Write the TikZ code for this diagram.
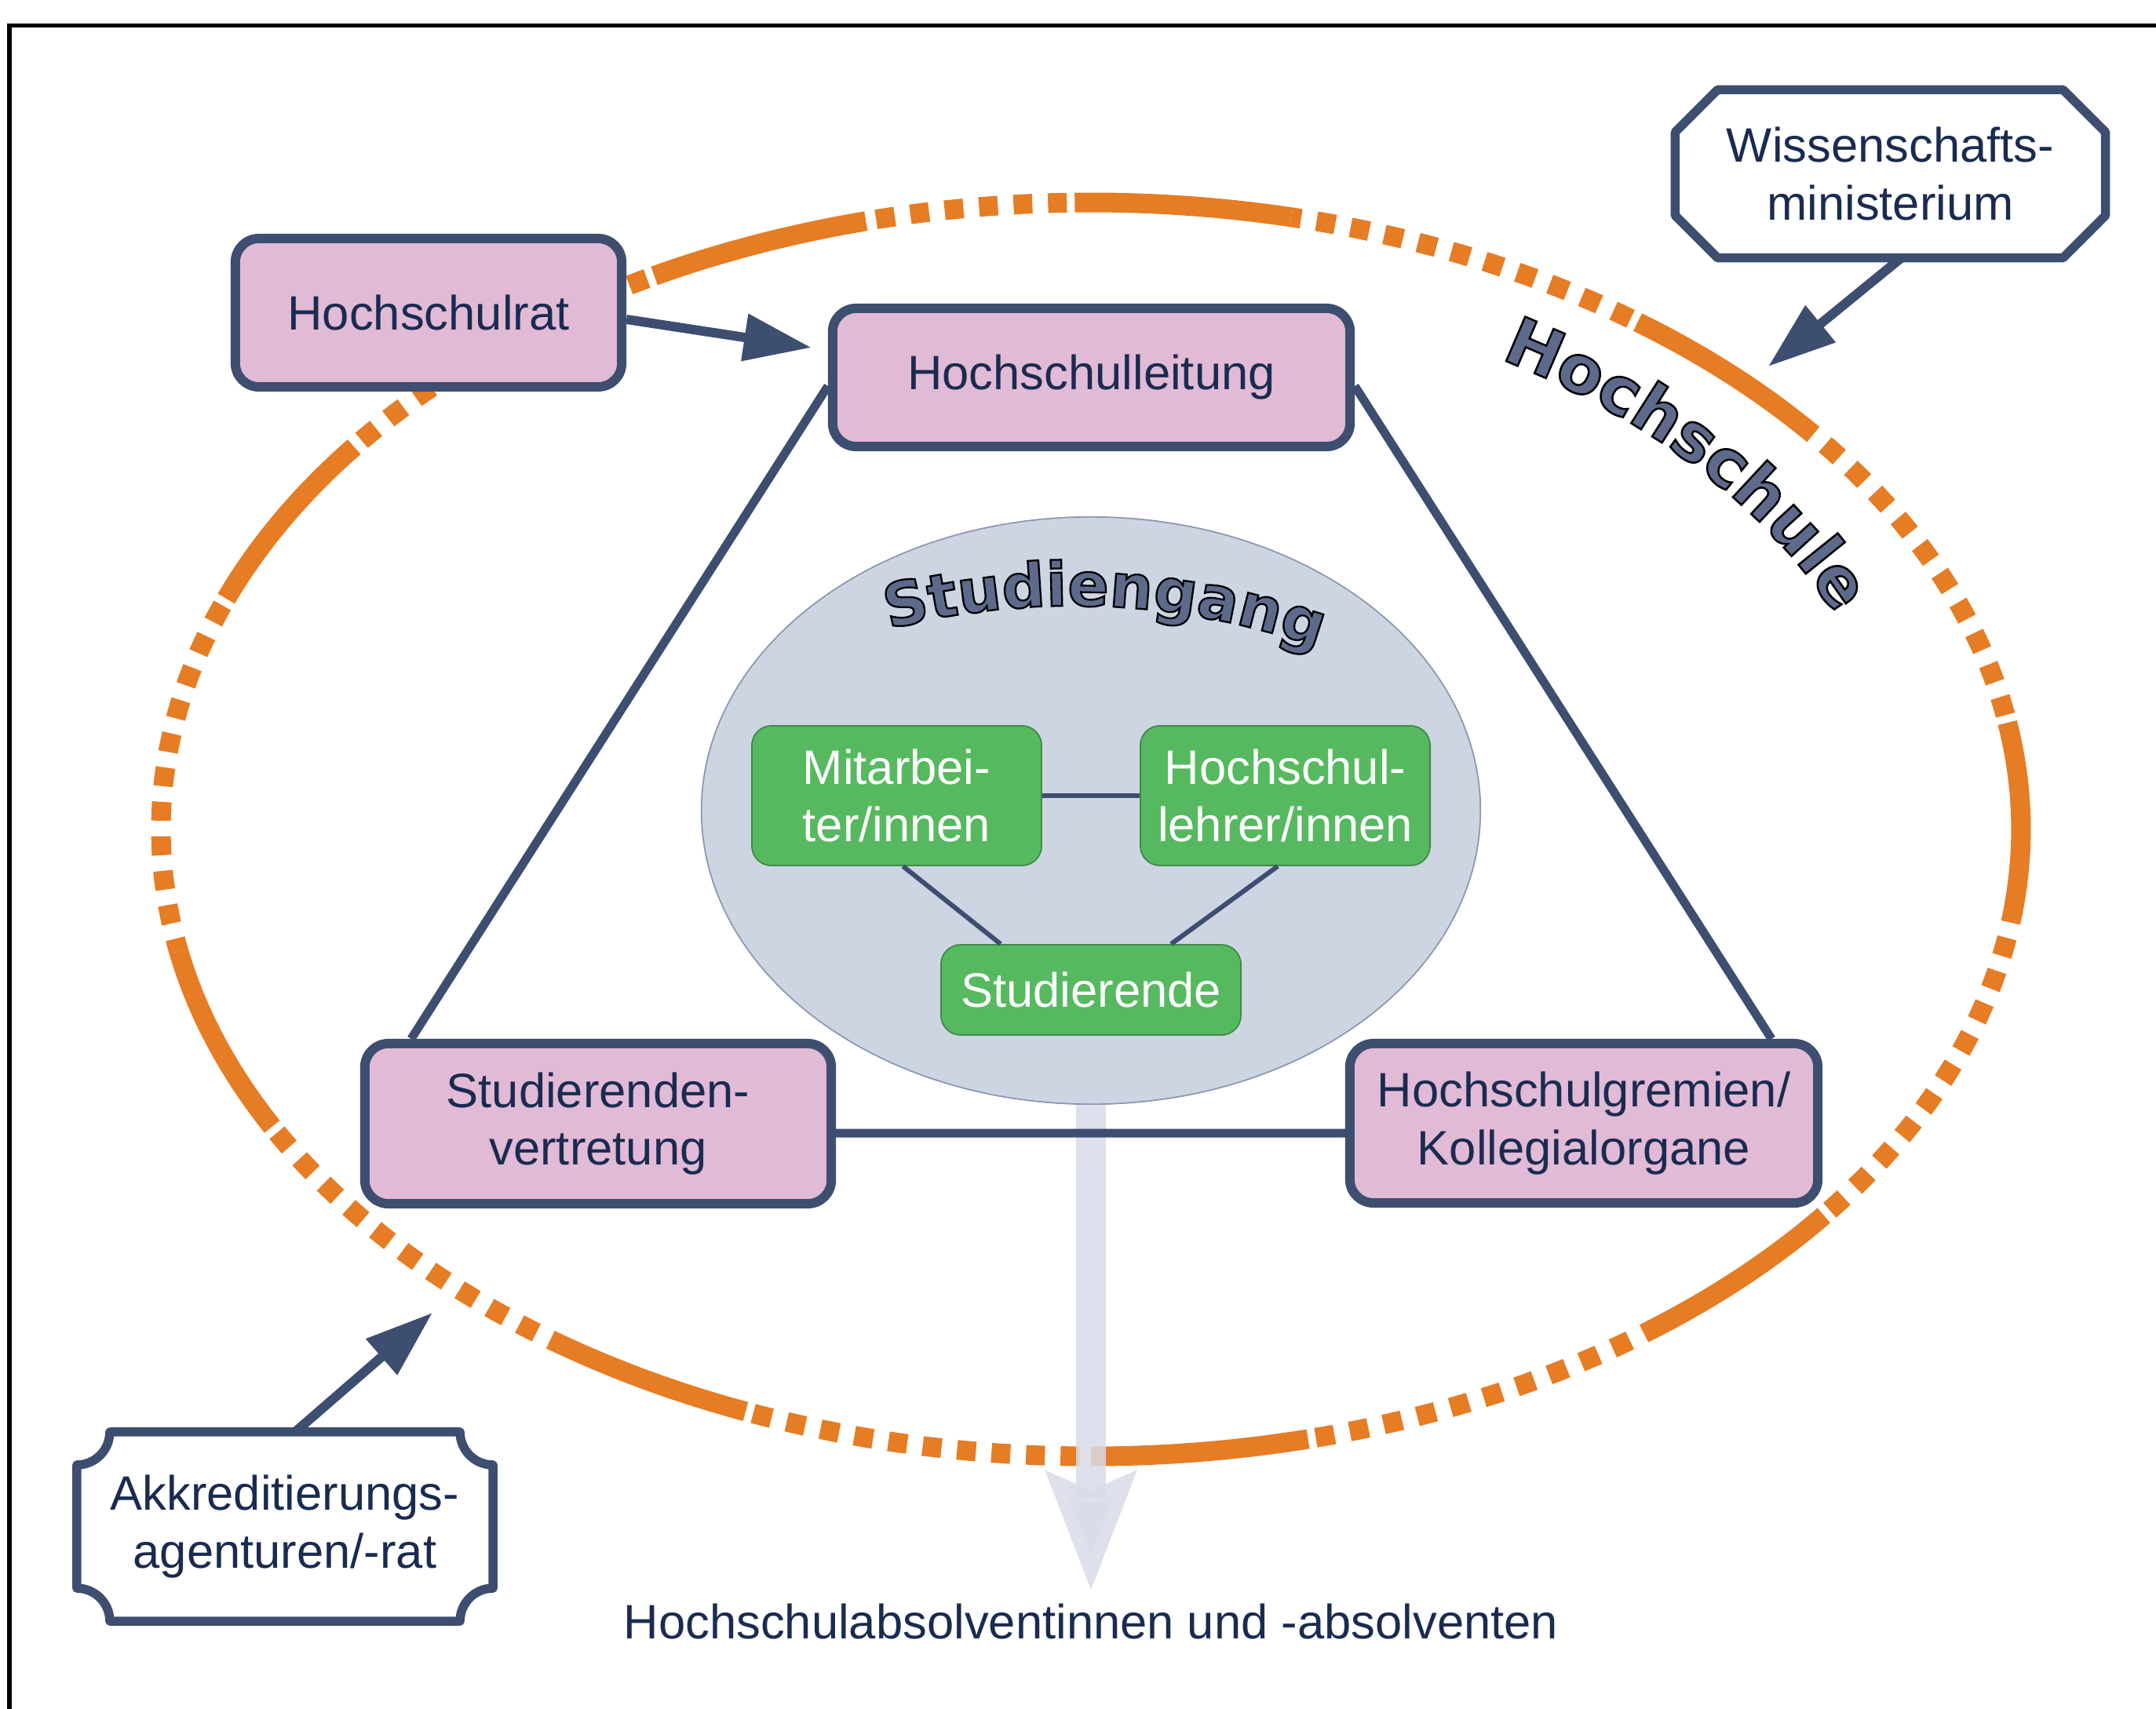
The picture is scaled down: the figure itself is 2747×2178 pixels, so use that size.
\documentclass[tikz,border=0pt]{standalone}
\usepackage{fontspec}
\setmainfont{Liberation Sans}
\newfontfamily\headfont{DejaVu Sans}[BoldFeatures={FakeBold=3}]
\usepackage{xcolor}
\usepackage{tikz}
\usetikzlibrary{shapes.geometric, arrows.meta, positioning, decorations.text}

\definecolor{navy}{HTML}{3D4E70}
\definecolor{pinkfill}{HTML}{E1BAD5}
\definecolor{textblue}{HTML}{1A2B50}
\definecolor{ringorange}{HTML}{E67C24}
\definecolor{ellfill}{HTML}{CDD5E3}
\definecolor{ellline}{HTML}{8C97B0}
\definecolor{greenfill}{HTML}{56B95F}
\definecolor{greenline}{HTML}{3E8C45}
\definecolor{arrowgrey}{HTML}{D8DCE7}
\definecolor{headfill}{HTML}{5E6A8B}

\newcommand{\headstyle}[1]{\headfont\bfseries\fontsize{#1}{#1}\selectfont\color{headfill}\special{pdf:literal direct 0 0 0 RG}}

\begin{document}
\begin{tikzpicture}[x=0.01cm, y=0.01cm, font=\fontsize{17.5}{21}\selectfont]
    \tikzstyle{pinkbox} = [rectangle, rounded corners=0.3cm, draw=navy, line width=0.12cm, fill=pinkfill, text=textblue, align=center]
    \tikzstyle{greenbox} = [rectangle, rounded corners=0.25cm, draw=greenline, line width=0.5pt, fill=greenfill, text=white, align=center]
    \tikzstyle{plainbox} = [fill=white, outer sep=0pt, text=textblue, align=center]
    \tikzstyle{frame} = [draw=navy, line width=0.115cm, line join=round]
    \tikzstyle{link} = [draw=navy, line width=0.11cm]
    \tikzstyle{thinlink} = [draw=navy, line width=0.06cm]
    \tikzstyle{pointer} = [draw=navy, line width=0.12cm, -{Triangle[length=0.86cm, width=0.58cm]}]
    \tikzstyle{solidarc} = [ringorange, line width=0.25cm]
    \tikzstyle{dotarc} = [ringorange, line width=0.25cm, dash pattern=on 0.24cm off 0.2cm, dash phase=0.34cm]
    \tikzstyle{bigarrow} = [draw=arrowgrey, opacity=0.85, line width=0.38cm, -{Stealth[length=1.5cm, width=1.1cm, inset=0.22cm]}]

    \useasboundingbox (0,0) rectangle (2747,-2178);
    \draw [line width=0.05cm] (2747,-32) -- (12,-32) -- (12,-2178);

    % Hochschule ring
    \coordinate (hs) at (1390,-1057);
    \foreach \a/\b in {40.2/54, 77.6/91, 104/118, 142.4/158.4, 191.2/208.3, 235.2/248.2, 270/283.5, 306.9/322, 351.7/369.8}
        \draw [solidarc] ([shift={(\a:1185 and 799)}]hs) arc[start angle=\a, end angle=\b, x radius=1185, y radius=799];
    \foreach \a/\b in {9.8/40.2, 54/77.6, 91/104, 118/142.4, 158.4/191.2, 208.3/235.2, 248.2/270, 283.5/306.9, 322/351.7}
        \draw [dotarc] ([shift={(\a:1185 and 799)}]hs) arc[start angle=\a, end angle=\b, x radius=1185, y radius=799];

    % Studiengang
    \node [ellipse, fill=ellfill, draw=ellline, line width=0.5pt, minimum width=9.92cm, minimum height=7.48cm, inner sep=0pt] (sg) at (1390,-1033) {};
    \node [greenbox, minimum width=3.69cm, minimum height=1.78cm] (mit) at (1142.5,-1014) {Mitarbei-\\ter/innen};
    \node [greenbox, minimum width=3.69cm, minimum height=1.78cm] (lehr) at (1637.5,-1014) {Hochschul-\\lehrer/innen};
    \node [greenbox, minimum width=3.82cm, minimum height=1.15cm] (stud) at (1390,-1261.5) {Studierende};

    \draw [thinlink] (mit) -- (lehr);
    \draw [thinlink] ([xshift=0.08cm]mit.south) -- ([xshift=-1.15cm]stud.north);
    \draw [thinlink] ([xshift=-0.095cm]lehr.south) -- ([xshift=1.02cm]stud.north);

    % Absolventen
    \coordinate (gradTip) at (1390,-2028);
    \draw [bigarrow] (sg.south) -- (gradTip);
    \node [text=textblue] (grad) at (1390,-2066) {Hochschulabsolventinnen und -absolventen};

    % Organe
    \node [pinkbox, minimum width=4.92cm, minimum height=1.89cm] (rat) at (546,-398.5) {Hochschulrat};
    \node [pinkbox, minimum width=6.59cm, minimum height=1.76cm] (leit) at (1390.5,-481) {Hochschulleitung};
    \node [pinkbox, minimum width=5.94cm, minimum height=2.04cm] (svt) at (762,-1432) {Studierenden-\\vertretung};
    \node [pinkbox, minimum width=5.96cm, minimum height=2.03cm] (grem) at (2018,-1431.5) {Hochschulgremien/\\Kollegialorgane};

    \draw [link] ([yshift=-0.11cm]leit.west) -- ([xshift=0.65cm]svt.north west);
    \draw [link] ([yshift=-0.11cm]leit.east) -- ([xshift=-0.65cm]grem.north east);
    \draw [link] ([yshift=-0.12cm]svt.east) -- ([yshift=-0.125cm]grem.west);
    \draw [pointer] ([yshift=-0.085cm]rat.east) -- ([xshift=-0.21cm, yshift=0.38cm]leit.west);

    % Aussen
    \node [plainbox, minimum width=5.48cm, minimum height=2.14cm] (min) at (2408.5,-221.5) {Wissenschafts-\\ministerium};
    \draw [frame]
        ([xshift=0.54cm]min.north west) -- ([xshift=-0.54cm]min.north east) -- ([yshift=-0.54cm]min.north east)
        -- ([yshift=0.54cm]min.south east) -- ([xshift=-0.54cm]min.south east) -- ([xshift=0.54cm]min.south west)
        -- ([yshift=0.54cm]min.south west) -- ([yshift=-0.54cm]min.north west) -- cycle;
    \coordinate (minTip) at (2253,-467);
    \draw [pointer] ([xshift=0.14cm]min.south) -- (minTip);

    \node [plainbox, minimum width=5.3cm, minimum height=2.41cm] (akk) at (363,-1945.5) {Akkreditierungs-\\agenturen/-rat};
    \draw [frame]
        ([xshift=0.42cm]akk.north west) -- ([xshift=-0.42cm]akk.north east)
        arc[start angle=180, end angle=270, radius=0.42cm] -- ([yshift=0.42cm]akk.south east)
        arc[start angle=90, end angle=180, radius=0.42cm] -- ([xshift=0.42cm]akk.south west)
        arc[start angle=0, end angle=90, radius=0.42cm] -- ([yshift=-0.42cm]akk.north west)
        arc[start angle=270, end angle=360, radius=0.42cm] -- cycle;
    \coordinate (akkTip) at (551,-1673);
    \draw [pointer] ([xshift=0.13cm]akk.north) -- (akkTip);

    % Titel
    \coordinate (sgc) at (1367,-1706);
    \path [decorate, decoration={text along path, text align=center, text color=headfill,
        text={|\headstyle{22}|Studiengang}}]
        ([shift={(115:934)}]sgc) arc[start angle=115, end angle=60, radius=934];
    \path [decorate, decoration={text along path, text align=center, text color=headfill,
        text={|\headstyle{24}|Hochschule}}]
        ([shift={(68:1031 and 695)}]hs) arc[start angle=68, end angle=12, x radius=1031, y radius=695];
\end{tikzpicture}
\end{document}
